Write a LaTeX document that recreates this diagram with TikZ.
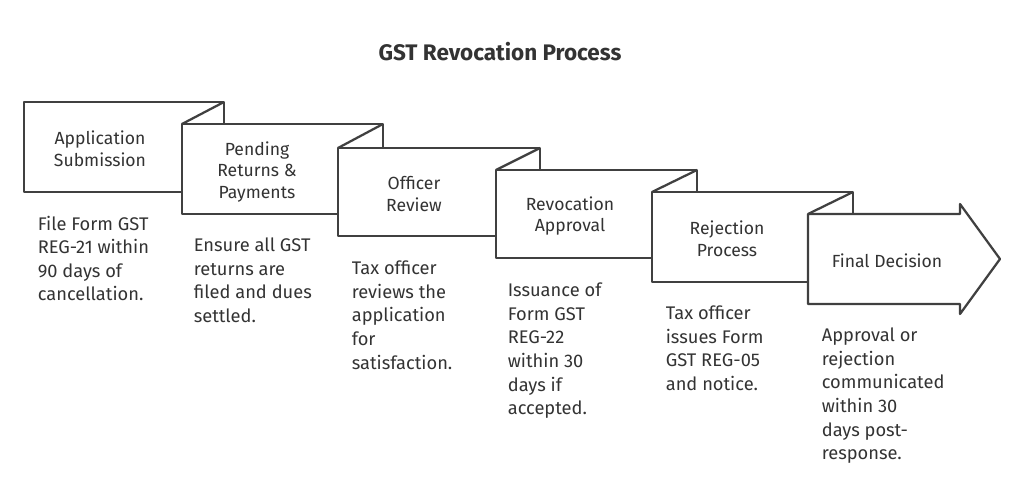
\documentclass[tikz,border=0pt]{standalone}
\usepackage{fontspec}
\setmainfont{Fira Sans}
\usepackage{tikz}

\begin{document}
\begin{tikzpicture}[x=0.025cm,y=-0.025cm,line width=1.6pt,draw=black!75,
  stepbox/.style={draw=black!75,fill=white,line join=round},
  lbl/.style={align=center,font=\fontsize{12.5}{15.5}\selectfont,text=black!80},
  desc/.style={align=left,anchor=north west,font=\fontsize{13}{16.8}\selectfont,text=black!80}]
  \useasboundingbox (0,0) rectangle (1024,486);
  \node[font=\bfseries\fontsize{16}{19}\selectfont,text=black!80] (title) at (500,52) {GST Revocation Process};
  % steps
  \draw[stepbox] (24,102) rectangle (224,192);
  \draw[stepbox] (182,124) rectangle (383,214);
  \draw (224,102) -- (182,124);
  \draw[stepbox] (338,148) rectangle (540,236);
  \draw (383,124) -- (338,148);
  \draw[stepbox] (496,170) rectangle (697,258);
  \draw (540,148) -- (496,170);
  \draw[stepbox] (652,192) rectangle (853,282);
  \draw (697,170) -- (652,192);
  \draw[stepbox] (808,214) -- (960,214) -- (960,204) -- (1000,259) -- (960,314) -- (960,304) -- (808,304) -- cycle;
  \draw (853,192) -- (808,214);
  % labels
  \node[lbl] (app) at (100,149) {Application\\Submission};
  \node[lbl] (pend) at (257,172) {Pending\\Returns \&\\Payments};
  \node[lbl] (off) at (414,194) {Officer\\Review};
  \node[lbl] (rev) at (570,216) {Revocation\\Approval};
  \node[lbl] (rej) at (727,239) {Rejection\\Process};
  \node[lbl] (fin) at (887,261) {Final Decision};
  % descriptions
  \node[desc] (d1) at (32,210) {File Form GST\\REG-21 within\\90 days of\\cancellation.};
  \node[desc] (d2) at (188,232) {Ensure all GST\\returns are\\filed and dues\\settled.};
  \node[desc] (d3) at (346,255) {Tax officer\\reviews the\\application\\for\\satisfaction.};
  \node[desc] (d4) at (502,277) {Issuance of\\Form GST\\REG-22\\within 30\\days if\\accepted.};
  \node[desc] (d5) at (660,300) {Tax officer\\issues Form\\GST REG-05\\and notice.};
  \node[desc] (d6) at (816,322) {Approval or\\rejection\\communicated\\within 30\\days post-\\response.};
\end{tikzpicture}
\end{document}
